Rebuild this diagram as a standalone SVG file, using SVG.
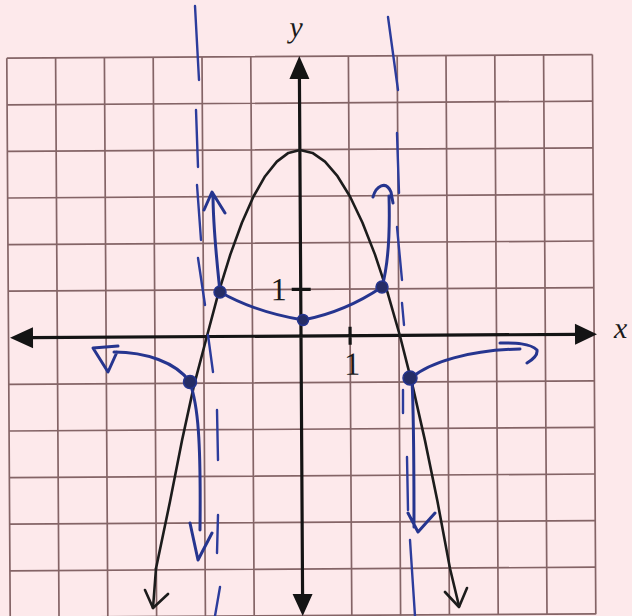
<svg xmlns="http://www.w3.org/2000/svg" width="632" height="616" viewBox="0 0 632 616">
<style>
.grid{stroke:#846466;stroke-width:1.7;fill:none}
.axis{stroke:#141414;stroke-width:3.2;fill:none}
.head{fill:#141414}
.lbl{font-family:"Liberation Serif","Times New Roman",serif;fill:#1a1a1a}
.curve{stroke:#1c1c1c;stroke-width:2.6;fill:none;stroke-linejoin:round;stroke-linecap:round}
.blue{stroke:#26358f;stroke-width:3;fill:none;stroke-linecap:round;stroke-linejoin:round}
.dash{stroke:#2c3c9c;stroke-width:2.4;fill:none;stroke-linecap:round}
.dot{fill:#262d66;stroke:#26358f;stroke-width:1.5}
</style>
<rect width="632" height="616" fill="#fde9eb"/>
<g id="plane" transform="rotate(-0.35 300 336)">
<g id="grid" class="grid">
<path d="M8.5 56.4V616M57.3 56.4V616M106.1 56.4V616M154.9 56.4V616M203.7 56.4V616M252.5 56.4V616M350.1 56.4V616M398.9 56.4V616M447.7 56.4V616M496.5 56.4V616M545.3 56.4V616M594.1 56.4V616"/>
<path d="M8.5 56.4H594.1M8.5 103H594.1M8.5 149.6H594.1M8.5 196.2H594.1M8.5 242.8H594.1M8.5 289.4H594.1M8.5 382.6H594.1M8.5 429.2H594.1M8.5 475.8H594.1M8.5 522.4H594.1M8.5 569H594.1M8.5 615.6H594.1"/>
</g>
<g id="axes">
<path class="axis" d="M301 76V596M30 336H578M292 289.4H311M350.1 327V345"/>
<path class="head" d="M301 56L291 79H311Z M301 616L291 594H311Z M10 336L33 325.5V346.5Z M597 336L575 325.5V346.5Z"/>
</g>
<g id="labels" class="lbl">
<text x="279" y="300" font-size="32" text-anchor="middle">1</text>
<text x="352" y="375" font-size="32" text-anchor="middle">1</text>
<text x="298" y="37" font-size="30" font-style="italic" text-anchor="middle">y</text>
<text x="614" y="340" font-size="30" font-style="italic">x</text>
</g>
</g>
<g id="parabola">
<path class="curve" d="M156 568.5L170 501.6L182 440.6L194 385.4L207 336L218.6 292.4L230.3 254.6L241.9 222.7L253.5 196.5L265.1 176.2L276.8 161.6L288.4 152.9L300 150L312.5 152.9L325 161.6L337.5 176.2L350 196.5L362.5 222.7L375 254.6L387.5 292.4L400 336L412.5 385.4L425 440.6L437.5 501.6L450 568.5L459 606"/>
<path class="curve" d="M156 568.5L153 608"/>
<path class="curve" d="M145 590L153 608L168 594M445 592L459 607L467 588"/>
</g>
<g id="asymptotes">
<path class="dash" d="M195 6L199 80M196 110L198 167M197 185L201 240M198 258L205 305M208 335L213 372M217 410L218 460M218 515L217 553M220 587L215 616"/>
<path class="dash" d="M388 17L398 90M397 133L399 193M397 227L402 280M402 303L404 325M403 390L403 413M407 457L408 510M410 540L415 616"/>
</g>
<g id="rational">
<path class="blue" d="M220 292Q255 312 303 320Q345 312 382 287"/>
<path class="blue" d="M220 292C217 262 213 228 213 194M204 210L212 192L225 213"/>
<path class="blue" d="M382 287C389 262 390 230 389 196M373 197C376 186 386 180 391 192L393 203"/>
<path class="blue" d="M190 382C176 362 145 352 114 352M118 346L93 348L108 372L117 352"/>
<path class="blue" d="M190 383C198 405 201 440 200 530M190 523L198 560L212 533"/>
<path class="blue" d="M411 378C430 362 470 350 520 349M500 343C515 343 530 343 537 350C538 356 532 360 527 363"/>
<path class="blue" d="M412 380C414 420 414 480 414 527M408 513L418 532L435 513"/>
<circle class="dot" cx="220" cy="292" r="6"/>
<circle class="dot" cx="303" cy="320" r="5.5"/>
<circle class="dot" cx="382" cy="287" r="6"/>
<circle class="dot" cx="190" cy="382" r="6.5"/>
<circle class="dot" cx="410" cy="378" r="7"/>
</g>
</svg>
